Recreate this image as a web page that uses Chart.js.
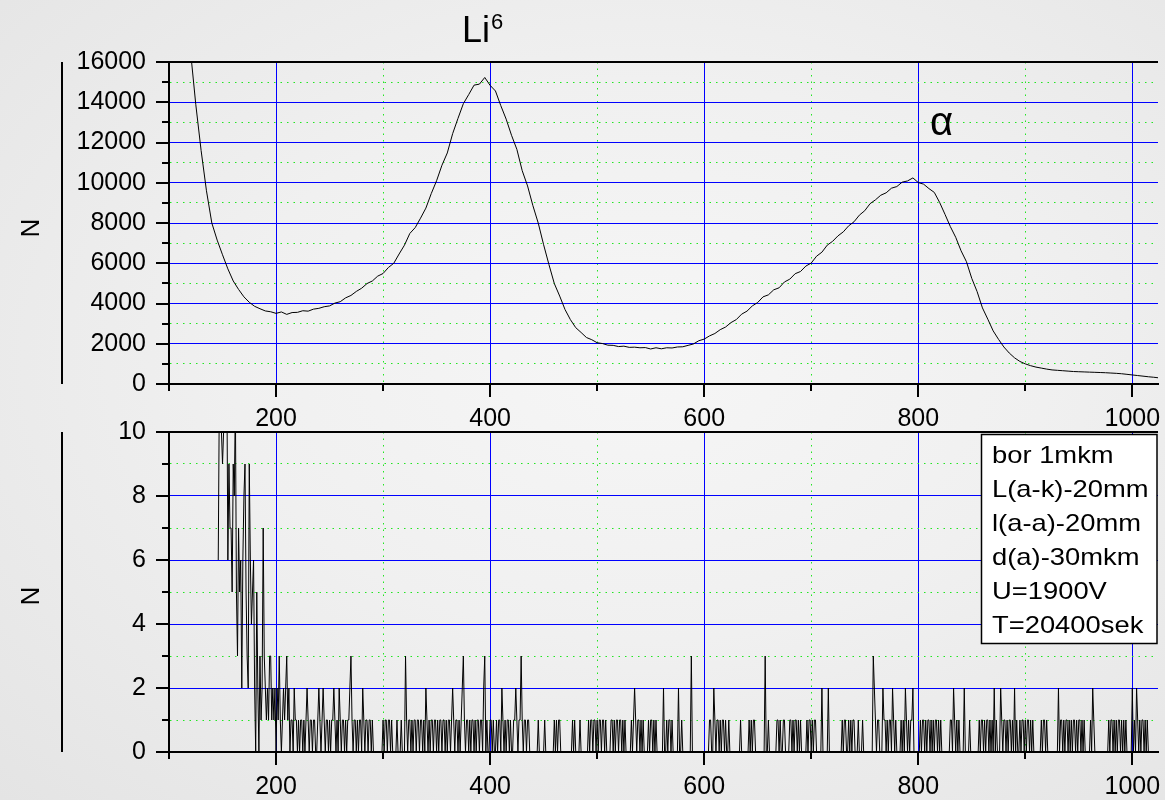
<!DOCTYPE html>
<html><head><meta charset="utf-8">
<script src="https://cdn.jsdelivr.net/npm/chart.js@4.4.1/dist/chart.umd.min.js"></script>
<style>
html,body{margin:0;padding:0;}
body{width:1165px;height:800px;overflow:hidden;position:relative;
 background:radial-gradient(ellipse at 55% 45%, #f6f6f6 0%, #f0f0f0 45%, #e4e4e4 100%);}
#c1{position:absolute;left:0;top:0;}
#c2{position:absolute;left:0;top:400px;}
</style></head><body>
<canvas id="c1" width="1165" height="440"></canvas>
<canvas id="c2" width="1165" height="400"></canvas>
<script>
// ---------- DATA ----------
const topChannels = [120,125,130,135,140,145,150,155,160,165,170,175,180,185,190,195,200,205,210,215,
220,225,230,235,240,245,250,255,260,265,270,275,280,285,290,295,300,305,310,315,
320,325,330,335,340,345,350,355,360,365,370,375,380,385,390,395,400,405,410,415,
420,425,430,435,440,445,450,455,460,465,470,475,480,485,490,495,500,505,510,515,
520,525,530,535,540,545,550,555,560,565,570,575,580,585,590,595,600,605,610,615,
620,625,630,635,640,645,650,655,660,665,670,675,680,685,690,695,700,705,710,715,
720,725,730,735,740,745,750,755,760,765,770,775,780,785,790,795,800,805,810,815,
820,825,830,835,840,845,850,855,860,865,870,875,880,885,890,895,900,905,910,915,
920,925,930,935,940,945,950,955,960,965,970,975,980,985,990,995,1000,1005,1010,1015,
1020,1024];
const topCounts = [16600,13900,11600,9600,8000,7150,6420,5720,5120,4700,
4330,4060,3860,3740,3630,3590,3510,3580,3460,3550,
3560,3640,3620,3720,3760,3840,3880,4020,4090,4280,
4400,4600,4760,4990,5120,5360,5490,5790,6000,6460,
6900,7480,7770,8240,8740,9460,10100,10870,11480,12440,
13200,13930,14380,14850,14900,15230,14840,14560,13830,13160,
12360,11660,10600,9840,8860,7990,6920,5930,4990,4370,
3700,3200,2800,2560,2310,2200,2050,2010,1930,1920,
1860,1880,1820,1830,1800,1810,1740,1800,1750,1800,
1790,1840,1850,1920,1990,2150,2230,2390,2510,2700,
2830,3050,3200,3470,3620,3880,4050,4330,4430,4680,
4780,5070,5210,5480,5590,5860,6010,6350,6550,6900,
7090,7360,7560,7860,8060,8390,8610,8960,9150,9380,
9500,9730,9810,10030,10090,10240,10010,9930,9710,9520,
9020,8430,7820,7290,6620,6080,5250,4590,3780,3220,
2640,2220,1840,1540,1300,1120,1000,910,840,790,
740,700,680,660,640,620,610,600,590,580,
570,560,545,530,510,480,450,420,390,360,
335,310];

const lowFirstChannel = 146;
const lowCounts = [
6,11,12,10,9,10,12,11,12,6,
9,7,7,5,9,8,11,5,3,7,
5,6,2,6,8,9,5,3,2,9,
6,4,5,6,2,0,5,2,0,3,
1,2,7,3,2,1,2,1,3,3,
1,2,1,2,0,2,1,3,1,0,
1,2,1,2,3,1,2,0,1,1,
0,2,1,1,0,1,0,1,1,0,
1,0,1,2,1,0,1,1,0,1,
1,0,0,1,2,1,0,1,2,1,
0,1,1,0,1,0,1,1,2,1,
0,1,0,2,1,0,1,1,0,1,
0,1,1,2,3,1,0,1,1,0,
1,0,1,1,0,2,1,0,1,1,
0,1,1,0,1,0,0,0,0,0,
0,0,0,0,1,0,1,1,0,1,
1,0,1,0,0,0,0,1,0,0,
0,1,0,0,0,3,1,0,1,1,
0,1,0,1,1,0,1,1,0,1,
1,0,1,0,2,1,0,1,0,1,
1,0,1,1,0,1,0,1,1,0,
1,1,0,1,0,1,1,0,1,2,
1,0,1,1,0,1,0,1,2,3,
1,0,1,1,0,1,0,1,1,0,
1,0,1,1,0,1,1,0,2,3,
0,1,0,0,1,1,0,1,0,0,
1,0,1,1,0,2,1,0,1,0,
1,1,0,1,0,0,1,1,2,1,
0,1,1,3,1,0,1,1,0,1,
1,0,0,0,0,0,0,0,0,1,
0,0,0,0,0,1,0,0,0,0,
0,0,0,0,1,0,1,0,1,1,
0,0,0,0,0,0,0,0,0,0,
0,1,0,1,0,0,0,0,1,0,
0,0,0,0,0,0,1,0,1,1,
0,1,1,0,1,0,1,1,0,1,
1,0,1,0,0,0,0,1,1,0,
1,0,1,1,0,1,1,0,1,0,
1,0,0,0,0,0,1,0,1,2,
1,0,1,1,0,1,0,1,0,0,
0,0,1,0,1,1,0,1,0,1,
0,0,0,0,0,0,2,0,0,1,
0,1,1,0,1,0,0,0,0,0,
2,0,0,1,0,0,0,0,0,0,
0,0,3,0,0,0,0,0,0,0,
0,0,0,0,0,0,0,0,0,1,
1,0,0,2,1,0,1,1,0,1,
0,1,1,0,1,0,0,1,0,0,
0,0,0,0,0,0,0,0,1,0,
0,0,0,0,0,0,1,0,1,0,
1,1,0,0,0,0,0,0,0,0,
0,3,0,0,1,0,0,0,0,0,
0,0,1,1,0,1,0,0,1,1,
0,0,0,0,1,1,0,1,0,1,
1,0,1,0,1,0,0,0,0,0,
1,0,1,1,0,1,0,1,1,0,
0,0,0,0,2,0,0,0,0,0,
2,0,0,0,0,0,0,0,0,0,
0,0,0,1,0,1,1,0,0,1,
0,1,0,1,1,0,0,0,1,0,
0,0,1,0,0,0,0,0,0,0,
0,0,3,2,1,0,1,1,0,0,
0,2,1,1,0,1,0,1,1,0,
2,1,0,1,0,0,0,0,1,0,
1,0,2,1,0,1,0,1,1,2,
0,0,0,0,0,0,1,0,1,1,
0,1,0,1,1,0,1,0,1,0,
1,1,0,1,0,1,0,0,0,0,
0,0,0,0,1,1,0,2,1,0,
1,0,1,0,0,0,0,2,0,0,
0,0,1,0,0,0,0,0,0,0,
0,1,0,1,1,0,1,0,1,1,
0,1,0,1,0,2,0,1,0,0,
0,2,1,0,1,1,0,1,0,1,
1,0,1,0,2,0,1,0,0,1,
0,1,1,0,1,0,1,1,0,1,
0,1,0,0,0,0,0,0,0,1,
0,1,1,0,1,0,0,0,0,0,
0,0,0,0,0,2,0,1,1,0,
1,0,1,1,0,1,0,1,0,1,
1,0,1,0,1,1,0,1,0,1,
0,0,0,0,0,1,0,2,1,0,
0,0,0,0,0,0,0,0,0,0,
0,0,1,0,1,1,0,1,0,1,
0,1,1,0,1,0,1,0,1,0,
0,0,0,0,2,0,1,0,2,1,
0,1,0,1,1,0,1,0,1,0,
0,0,0,0,0,0,0,0];

const xTickValues = [100,200,300,400,500,600,700,800,900,1000];
const topYTicks = [0,1000,2000,3000,4000,5000,6000,7000,8000,9000,10000,11000,12000,13000,14000,15000,16000];
const lowYTicks = [0,1,2,3,4,5,6,7,8,9,10];
const legendLines = ['bor 1mkm','L(a-k)-20mm','l(a-a)-20mm','d(a)-30mkm','U=1900V','T=20400sek'];
const yTitle = 'N';
const peakLabels = {li: 'Li', liSup: '6', alpha: 'α'};

// ---------- CHART HELPERS ----------
const FONT = '"Liberation Sans", Arial, Helvetica, sans-serif';
const BLUE = '#0000ff', GREEN = '#22e622', NONE = 'rgba(0,0,0,0)';

function gridColor(major, min, max) {
  return c => {
    if (!c.tick) return NONE;
    const v = c.tick.value;
    if (v === min || v === max || v === 100) return NONE;
    return (v % major === 0) ? BLUE : GREEN;
  };
}
function gridDash(major) {
  return c => (c.tick && c.tick.value % major !== 0) ? [1.5, 5] : [];
}

const decor = {
  id: 'decor',
  afterDraw(chart, args, o) {
    const {ctx, chartArea: a, scales: {x, y}} = chart;
    const off = o.off;
    ctx.save();
    ctx.strokeStyle = '#000';
    ctx.lineWidth = 2;
    ctx.beginPath();
    o.yTicks.forEach(v => {
      const py = Math.round(y.getPixelForValue(v));
      const len = (v % o.yMajor === 0) ? 13 : 7;
      ctx.moveTo(a.left - len, py); ctx.lineTo(a.left, py);
    });
    xTickValues.forEach(v => {
      const px = Math.round(x.getPixelForValue(v));
      const len = (v % 200 === 0) ? 13 : 7;
      ctx.moveTo(px, a.bottom); ctx.lineTo(px, a.bottom + len);
    });
    ctx.moveTo(a.left - 1, Math.round(a.top)); ctx.lineTo(a.right, Math.round(a.top));
    ctx.moveTo(62, a.top); ctx.lineTo(62, a.bottom);
    ctx.stroke();

    // axis title
    ctx.fillStyle = '#000';
    ctx.font = '26px ' + FONT;
    ctx.textAlign = 'center';
    ctx.textBaseline = 'middle';
    ctx.save();
    ctx.translate(32, o.titleY - off);
    ctx.rotate(-Math.PI / 2);
    ctx.fillText(yTitle, 0, 0);
    ctx.restore();

    if (o.peaks) {
      ctx.textAlign = 'left';
      ctx.textBaseline = 'alphabetic';
      ctx.font = '36px ' + FONT;
      ctx.fillText(peakLabels.li, 462, 42);
      const w = ctx.measureText(peakLabels.li).width;
      ctx.font = '22px ' + FONT;
      ctx.fillText(peakLabels.liSup, 462 + w + 1, 29);
      ctx.font = '40px ' + FONT;
      ctx.fillText(peakLabels.alpha, 930, 135);
    }
    if (o.legend) {
      const bx = 981.5, by = 434 - off + 0.5, bw = 1157 - 981.5, bh = 643 - 434;
      ctx.fillStyle = '#ffffff';
      ctx.fillRect(bx, by, bw, bh);
      ctx.lineWidth = 1.5;
      ctx.strokeStyle = '#000';
      ctx.strokeRect(bx, by, bw, bh);
      ctx.fillStyle = '#000';
      ctx.font = '24px ' + FONT;
      ctx.textAlign = 'left';
      ctx.textBaseline = 'middle';
      legendLines.forEach((t, i) => {
        ctx.save();
        ctx.translate(992, 456.7 - off + i * 34);
        ctx.scale(1.14, 1);
        ctx.fillText(t, 0, 0);
        ctx.restore();
      });
    }
    ctx.restore();
  }
};

function makeChart(canvas, points, yMax, yTicks, yMajor, cfg) {
  return new Chart(canvas, {
    type: 'line',
    data: { datasets: [{ data: points, borderColor: '#000', borderWidth: 1, pointRadius: 0, tension: 0, fill: false }] },
    options: {
      responsive: false, animation: false, devicePixelRatio: 1,
      parsing: false, normalized: true,
      layout: { padding: { left: 0, right: 7, top: cfg.padTop, bottom: 0 } },
      plugins: { legend: { display: false }, tooltip: { enabled: false },
        decor: { yTicks: yTicks, yMajor: yMajor, titleY: cfg.titleY, peaks: cfg.peaks, legend: cfg.legend, off: cfg.off } },
      scales: {
        x: {
          type: 'linear', min: 100, max: 1024,
          afterBuildTicks: s => { s.ticks = xTickValues.map(v => ({ value: v })); },
          afterFit: s => { s.height = cfg.xH; s.paddingLeft = 0; s.paddingRight = 0; },
          ticks: { autoSkip: false, maxRotation: 0, padding: 20, color: '#000', font: { family: FONT, size: 25 },
            callback: v => (v % 200 === 0 ? String(v) : '') },
          grid: { drawTicks: false, color: gridColor(200, 100, 1024), lineWidth: 1 },
          border: { display: true, color: '#000', width: 2, dash: gridDash(200) }
        },
        y: {
          type: 'linear', min: 0, max: yMax,
          afterBuildTicks: s => { s.ticks = yTicks.map(v => ({ value: v })); },
          afterFit: s => { s.width = 169; s.paddingTop = 0; s.paddingBottom = 0; },
          ticks: { autoSkip: false, padding: 23, color: '#000', font: { family: FONT, size: 25 },
            callback: v => (v % yMajor === 0 ? String(v) : '') },
          grid: { drawTicks: false, color: gridColor(yMajor, 0, yMax), lineWidth: 1 },
          border: { display: true, color: '#000', width: 2, dash: gridDash(yMajor) }
        }
      }
    },
    plugins: [decor]
  });
}

const topPoints = topChannels.map((c, i) => ({ x: c, y: topCounts[i] }));
const lowPoints = lowCounts.map((v, i) => ({ x: lowFirstChannel + i, y: v }));

makeChart(document.getElementById('c1'), topPoints, 16000, topYTicks, 2000,
  { padTop: 62, xH: 56, titleY: 228, peaks: true, legend: false, off: 0 });
makeChart(document.getElementById('c2'), lowPoints, 10, lowYTicks, 2,
  { padTop: 32, xH: 48, titleY: 596, peaks: false, legend: true, off: 400 });
</script>
</body></html>
